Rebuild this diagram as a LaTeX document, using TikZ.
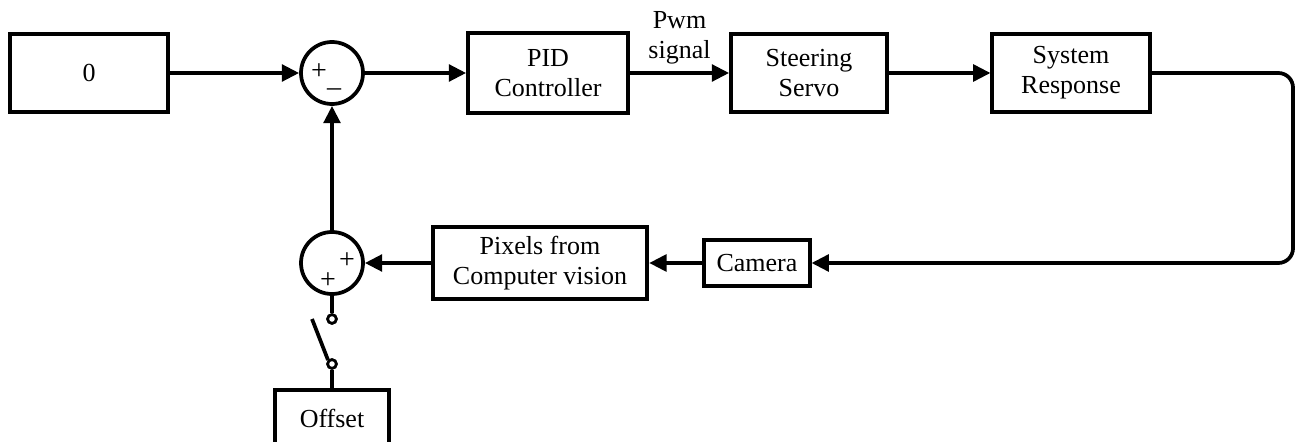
\documentclass[tikz,border=0pt]{standalone}
\usepackage{fontspec}
\setmainfont{Liberation Serif}
\usetikzlibrary{arrows.meta}
\begin{document}
\begin{tikzpicture}[x=0.75pt,y=-0.75pt,
  line width=2.8pt,
  every node/.style={font=\fontsize{19.5}{22.5}\selectfont, align=center, inner sep=0pt},
  blk/.style={draw, rectangle},
  sumj/.style={draw, circle, minimum size=46.5pt},
  sgn/.style={font=\fontsize{21}{21}\selectfont, line width=0pt},
  flow/.style={-{Triangle[length=13pt,width=12.5pt]}},
  contact/.style={draw, circle, minimum size=6.5pt, line width=2pt, fill=white}]
  \useasboundingbox (0,0) rectangle (1298,442);

  % forward path
  \node[blk, minimum width=118.5pt, minimum height=59pt] (ref) at (89,73) {0};
  \node[sumj] (s1) at (332,73) {};
  \node[sgn] at (319,72) {+};
  \node[sgn] at (334,88) {\_};
  \node[blk, minimum width=120pt, minimum height=60pt] (pid) at (548,73) {PID\\Controller};
  \node[blk, minimum width=117pt, minimum height=58.5pt] (servo) at (809,73) {Steering\\Servo};
  \node[blk, minimum width=118pt, minimum height=59pt] (sys) at (1071,73) {System\\Response};

  % feedback path
  \node[blk, minimum width=79pt, minimum height=35pt] (cam) at (757,263) {Camera};
  \node[blk, minimum width=161pt, minimum height=54pt] (pix) at (540,263) {Pixels from\\Computer vision};
  \node[sumj] (s2) at (332,263) {};
  \node[sgn] at (347,261) {+};
  \node[sgn] at (328,281) {+};

  % offset branch with switch
  \node[contact] (k1) at (332,319) {};
  \node[contact] (k2) at (332,364) {};
  \coordinate (blade) at (312,319);
  \node[blk, minimum width=85.5pt, minimum height=45pt] (off) at (332,420) {};
  \node at (332,418) {Offset};

  \coordinate (loopx) at (1293,0);

  \draw[flow] (ref.east) -- (s1.west);
  \draw[flow] (s1.east) -- (pid.west);
  \draw[flow] (pid.east) -- node[above=5pt, font=\fontsize{19.5}{23}\selectfont] {Pwm\\signal} (servo.west);
  \draw[flow] (servo.east) -- (sys.west);
  \draw[flow, rounded corners=11pt] (sys.east) -- (sys.east -| loopx) -- (cam.east -| loopx) -- (cam.east);
  \draw[flow] (cam.west) -- (pix.east);
  \draw[flow] (pix.west) -- (s2.east);
  \draw[flow] (s2.north) -- (s1.south);

  \draw (s2.south) -- (k1.north);
  \draw (k2.south) -- (off.north);
  \draw (k2.north west) -- (blade);
  \node[contact] at (k1) {};
  \node[contact] at (k2) {};
\end{tikzpicture}
\end{document}
